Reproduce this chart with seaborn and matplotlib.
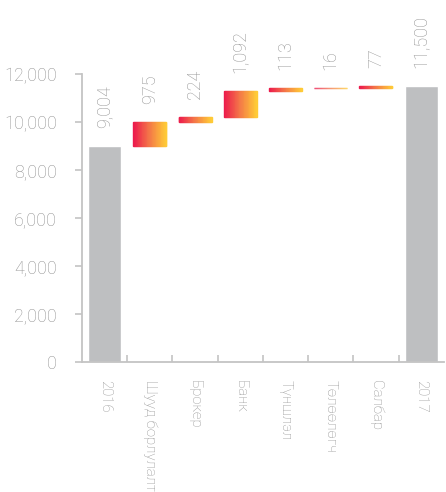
import numpy as np
import pandas as pd
import matplotlib
matplotlib.use("Agg")
import matplotlib.pyplot as plt
import seaborn as sns
from matplotlib.colors import LinearSegmentedColormap
from matplotlib.patches import Rectangle
from matplotlib.ticker import FuncFormatter, FixedLocator

# Data
categories = ["2016", "Шууд борлулалт", "Брокер", "Банк", "Түншлэл", "Төлөөлөгч", "Салбар", "2017"]
values = [9004, 975, 224, 1092, 113, 16, 77, 11500]
is_total = [True, False, False, False, False, False, False, True]

# Waterfall bottoms
bottoms = []
running = 0
for v, t in zip(values, is_total):
    if t:
        bottoms.append(0)
        running = v
    else:
        bottoms.append(running)
        running += v

df = pd.DataFrame({"category": categories, "value": values, "bottom": bottoms})

sns.set_style("white")
plt.rcParams["font.family"] = ["Roboto", "DejaVu Sans"]

text_grey = "#939393"
bar_grey = "#bebfc1"
spine_grey = "#c4c4c4"
grad = LinearSegmentedColormap.from_list("ry", ["#ec1a4c", "#f47a48", "#ffcb37"])

fig = plt.figure(figsize=(4.46, 4.92), dpi=100)
ax = fig.add_axes([0.184, 0.264, 0.811, 0.586])

sns.barplot(data=df, x="category", y="value", bottom=df["bottom"], color=bar_grey,
            width=0.73, saturation=1, ax=ax, zorder=2)

# gradient fill for the change bars, sliced into thin strips
n_strips = 40
for patch, t in zip(ax.patches, is_total):
    if t:
        continue
    x0, y0 = patch.get_x(), patch.get_y()
    w, h = patch.get_width(), patch.get_height()
    patch.set_visible(False)
    for k in range(n_strips):
        c = grad(k / (n_strips - 1))
        ax.add_patch(Rectangle((x0 + w * k / n_strips, y0), w / n_strips, h,
                               facecolor=c, edgecolor=c, linewidth=1.0, zorder=3))

# Value labels
for i, (v, b) in enumerate(zip(values, bottoms)):
    ax.annotate(f"{v:,}", xy=(i, b + v), xytext=(0, 13), textcoords="offset points",
                rotation=90, ha="center", va="bottom", fontsize=13,
                color=text_grey, fontweight="light", annotation_clip=False)

ax.set_xlim(-0.5, len(categories) - 0.5)
ax.set_ylim(0, 12000)
ax.set_yticks(range(0, 12001, 2000))
ax.yaxis.set_major_formatter(FuncFormatter(lambda y, _: f"{int(y):,}"))
ax.set_xlabel("")
ax.set_ylabel("")

ax.set_xticks(range(len(categories)))
ax.set_xticklabels(categories, rotation=270, ha="center", va="top",
                   fontsize=10.8, color=text_grey, fontweight="light")
ax.xaxis.set_minor_locator(FixedLocator([i + 0.5 for i in range(len(categories) - 1)]))
ax.tick_params(axis="x", which="major", length=0, pad=13)
ax.tick_params(axis="x", which="minor", length=5, direction="in", color=spine_grey, width=1.2, bottom=True)
ax.tick_params(axis="y", length=5, color=spine_grey, width=1.2, labelsize=13,
               labelcolor=text_grey, pad=13, left=True)
for lab in ax.get_yticklabels():
    lab.set_fontweight("light")

sns.despine(ax=ax, top=True, right=True)
for s in ["left", "bottom"]:
    ax.spines[s].set_color(spine_grey)
    ax.spines[s].set_linewidth(1.3)

plt.savefig("out.png", dpi=100)
